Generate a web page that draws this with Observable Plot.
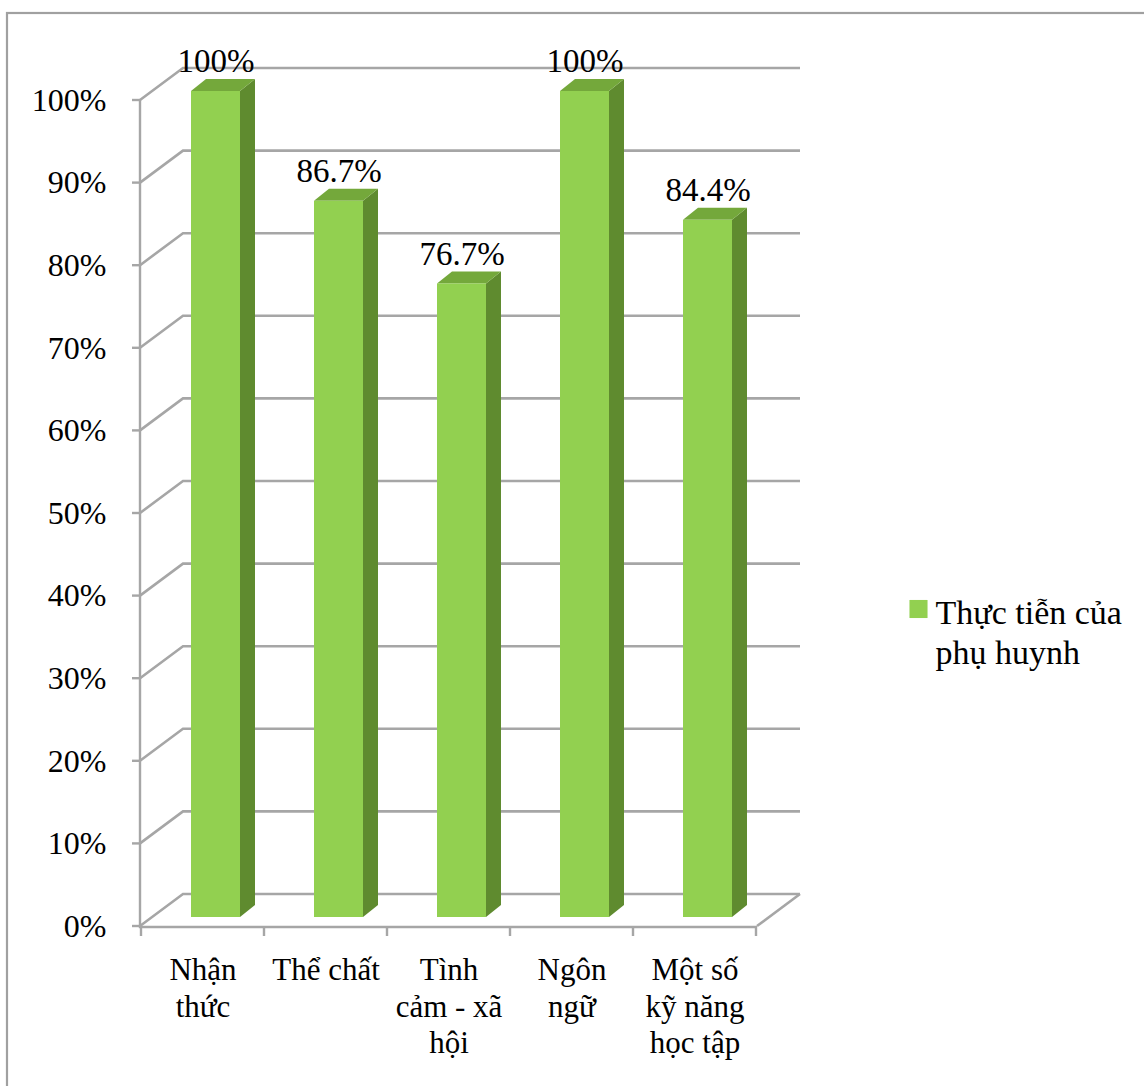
<!DOCTYPE html>
<html>
<head>
<meta charset="utf-8">
<script src="https://cdn.jsdelivr.net/npm/d3@7"></script>
<script src="https://cdn.jsdelivr.net/npm/@observablehq/plot@0.6"></script>
<style>
  html, body { margin: 0; padding: 0; background: white; overflow: hidden; }
</style>
</head>
<body>
<div id="chart"></div>
<script>
// ---- data ----
const categories = ["Nhận thức", "Thể chất", "Tình cảm - xã hội", "Ngôn ngữ", "Một số kỹ năng học tập"];
const categoryLines = ["Nhận\nthức", "Thể chất", "Tình\ncảm - xã\nhội", "Ngôn\nngữ", "Một số\nkỹ năng\nhọc tập"];
const values = [1.0, 0.867, 0.767, 1.0, 0.844];
const valueLabels = ["100%", "86.7%", "76.7%", "100%", "84.4%"];
const yTicks = [0, 0.1, 0.2, 0.3, 0.4, 0.5, 0.6, 0.7, 0.8, 0.9, 1.0];
const seriesName = "Thực tiễn của phụ huynh";
const legendLines = ["Thực tiễn của", "phụ huynh"];

// ---- styles ----
const FRONT = "#92D050", SIDE = "#5F8B2F", TOP = "#74A83B";
const GRID = "#A6A6A6", BORDER = "#A0A0A0";
const WALL_DX = 43, WALL_DY = -32;     // back wall depth offset
const PLANE_DX = 13, PLANE_DY = -9;    // bar front plane offset
const BAR_DX = 15, BAR_DY = -12;       // bar depth
const INSET = 37;

const data = categories.map((c, i) => ({category: c, value: values[i], label: valueLabels[i]}));

const border = (index, scales, v, dims) => {
  const g = d3.create("svg:g");
  g.append("rect").attr("x", 7).attr("y", 13)
    .attr("width", dims.width + 20).attr("height", dims.height + 20)
    .attr("fill", "white").attr("stroke", BORDER).attr("stroke-width", 2.2);
  return g.node();
};

const walls = (index, {x, y}, v, dims) => {
  const left = dims.marginLeft, right = dims.width - dims.marginRight;
  const g = d3.create("svg:g").attr("fill", "none").attr("stroke", GRID).attr("stroke-width", 2.6);
  yTicks.forEach(t => {
    const yy = y(t);
    g.append("path").attr("d", `M${left},${yy}L${left + WALL_DX},${yy + WALL_DY}L${right + WALL_DX},${yy + WALL_DY}`);
  });
  g.append("path").attr("d", `M${right},${y(0)}L${right + WALL_DX},${y(0) + WALL_DY}`);
  return g.node();
};

const barFaces = (index, {x, y}, v, dims) => {
  const bw = x.bandwidth();
  const g = d3.create("svg:g");
  data.forEach(d => {
    const xl = x(d.category) + INSET + PLANE_DX, xr = x(d.category) + bw - INSET + PLANE_DX;
    const yt = y(d.value) + PLANE_DY, yb = y(0) + PLANE_DY;
    g.append("path").attr("fill", SIDE)
      .attr("d", `M${xr},${yb}L${xr},${yt}L${xr + BAR_DX},${yt + BAR_DY}L${xr + BAR_DX},${yb + BAR_DY}Z`);
    g.append("path").attr("fill", TOP)
      .attr("d", `M${xl},${yt}L${xr},${yt}L${xr + BAR_DX},${yt + BAR_DY}L${xl + BAR_DX},${yt + BAR_DY}Z`);
  });
  return g.node();
};

const axisLines = (index, {x, y}, v, dims) => {
  const left = dims.marginLeft, right = dims.width - dims.marginRight;
  const g = d3.create("svg:g").attr("fill", "none").attr("stroke", GRID).attr("stroke-width", 2.4);
  const y0 = y(0) + 1;
  g.append("path").attr("d", `M${left},${y(1)}L${left},${y0}L${right},${y0}`);
  yTicks.forEach(t => g.append("path").attr("d", `M${left - 8},${y(t)}L${left},${y(t)}`));
  const bounds = categories.map(c => x(c)).concat([x(categories[categories.length - 1]) + x.bandwidth()]);
  bounds.forEach(b => g.append("path").attr("d", `M${b},${y0}L${b},${y0 + 9}`));
  return g.node();
};

const chart = Plot.plot({
  width: 1144,
  height: 1086,
  marginLeft: 140,
  marginRight: 387,
  marginTop: 100,
  marginBottom: 160,
  style: {
    fontFamily: "'Liberation Serif', 'Times New Roman', serif",
    fontSize: "31px",
    background: "white",
    color: "black",
    overflow: "hidden"
  },
  x: {domain: categories, padding: 0, axis: null},
  y: {domain: [0, 1], axis: null},
  marks: [
    border,
    walls,
    barFaces,
    Plot.barY(data, {x: "category", y: "value", fill: FRONT, insetLeft: INSET, insetRight: INSET, dx: PLANE_DX, dy: PLANE_DY}),
    axisLines,
    Plot.axisY(yTicks, {tickFormat: d3.format(".0%"), tickSize: 0, tickPadding: 34, fontSize: 32, label: null}),
    Plot.axisX({tickFormat: (d) => categoryLines[categories.indexOf(d)], tickSize: 0, tickPadding: 28, fontSize: 31, lineHeight: 1.17, label: null}),
    Plot.text(data, {x: "category", y: "value", text: "label", dx: PLANE_DX, dy: PLANE_DY - 30, fontSize: 33}),
    Plot.dot([seriesName], {frameAnchor: "right", dx: 161, dy: 95.5, symbol: "square", r: 10.2, fill: FRONT, stroke: null}),
    Plot.text([legendLines.join("\n")], {frameAnchor: "right", text: d => d, textAnchor: "start", lineAnchor: "top", dx: 178, dy: 82, fontSize: 34, lineHeight: 1.18})
  ]
});
document.getElementById("chart").appendChild(chart);
</script>
</body>
</html>
